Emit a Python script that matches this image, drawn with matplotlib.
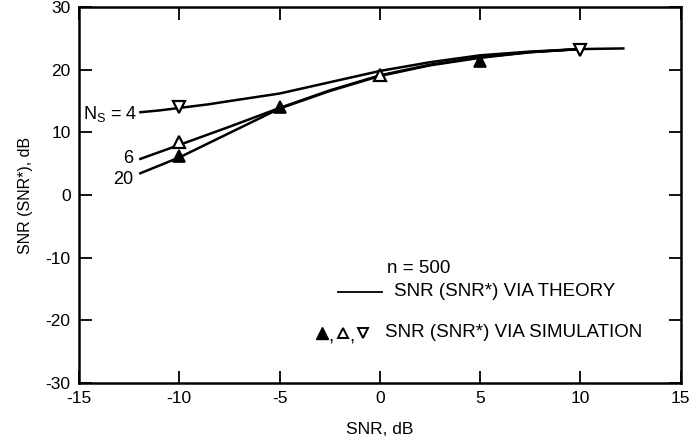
import matplotlib
matplotlib.use("Agg")
import matplotlib.pyplot as plt

plt.rcParams['font.family'] = ['Liberation Sans', 'DejaVu Sans']
plt.rcParams['axes.unicode_minus'] = False

# Theory curves
x_ns4 = [-12, -11, -10, -8.5, -7.5, -5, -2.5, 0, 2.5, 5, 7.5, 10, 12.2]
y_ns4 = [13.2, 13.5, 13.9, 14.5, 15.0, 16.2, 18.0, 19.8, 21.2, 22.3, 22.9, 23.3, 23.4]
x_ns6 = [-12, -10, -7.5, -5, -2.5, 0, 2.5, 5, 7.5, 10]
y_ns6 = [5.7, 8.0, 10.9, 13.9, 16.7, 19.1, 20.8, 22.0, 22.8, 23.3]
x_ns20 = [-12, -10, -7.5, -5, -2.5, 0, 2.5, 5, 7.5, 10]
y_ns20 = [3.4, 6.0, 9.9, 13.8, 16.6, 19.0, 20.7, 21.9, 22.8, 23.3]

# Simulation points
sim4_x = [-10, 10]
sim4_y = [14.1, 23.2]
sim6_x = [-10, 0]
sim6_y = [8.5, 19.2]
sim20_x = [-10, -5, 5]
sim20_y = [6.2, 14.0, 21.4]

xticks = [-15, -10, -5, 0, 5, 10, 15]
yticks = [-30, -20, -10, 0, 10, 20, 30]

fig = plt.figure(figsize=(6.89, 4.42), dpi=100)
ax = fig.add_axes([0.1147, 0.1335, 0.8733, 0.8505])

lw = 1.8
for xs, ys in [(x_ns4, y_ns4), (x_ns6, y_ns6), (x_ns20, y_ns20)]:
    ax.plot(xs, ys, color='black', lw=lw, solid_capstyle='butt')

ax.plot(sim4_x, sim4_y, ls='none', marker='v', ms=9, mfc='white', mec='black', mew=1.6)
ax.plot(sim6_x, sim6_y, ls='none', marker='^', ms=9, mfc='white', mec='black', mew=1.6)
ax.plot(sim20_x, sim20_y, ls='none', marker='^', ms=9, mfc='black', mec='black', mew=1.2)

ax.set_xlim(-15, 15)
ax.set_ylim(-30, 30)
ax.set_xticks(xticks)
ax.set_yticks(yticks)
ax.tick_params(direction='in', length=9, width=1.3, top=True, right=True,
               labelsize=12.5, pad=6)
for s in ax.spines.values():
    s.set_linewidth(1.8)

ax.set_xlabel('SNR, dB', fontsize=12.5, labelpad=11)
ax.set_ylabel('SNR (SNR*), dB', fontsize=11.5, labelpad=9)

# curve labels
ax.text(-12.1, 13.0, r'N$_\mathregular{S}$ = 4', ha='right', va='center', fontsize=13)
ax.text(-12.3, 5.8, '6', ha='right', va='center', fontsize=13)
ax.text(-12.3, 2.4, '20', ha='right', va='center', fontsize=13)

# legend block
fs = 13.5
ax.text(0.35, -11.7, 'n = 500', ha='left', va='center', fontsize=fs)
ax.plot([-2.1, 0.1], [-15.4, -15.4], color='black', lw=1.3)
ax.text(0.7, -15.4, 'SNR (SNR*) VIA THEORY', ha='left', va='center', fontsize=fs)
ax.plot([-2.9], [-22.0], ls='none', marker='^', ms=8, mfc='black', mec='black')
ax.text(-2.55, -22.6, ',', ha='left', va='center', fontsize=fs)
ax.plot([-1.85], [-22.0], ls='none', marker='^', ms=7, mfc='white', mec='black', mew=1.4)
ax.text(-1.5, -22.6, ',', ha='left', va='center', fontsize=fs)
ax.plot([-0.85], [-22.0], ls='none', marker='v', ms=7, mfc='white', mec='black', mew=1.4)
ax.text(0.25, -22.0, 'SNR (SNR*) VIA SIMULATION', ha='left', va='center', fontsize=fs)

fig.savefig('out.png', dpi=100)
